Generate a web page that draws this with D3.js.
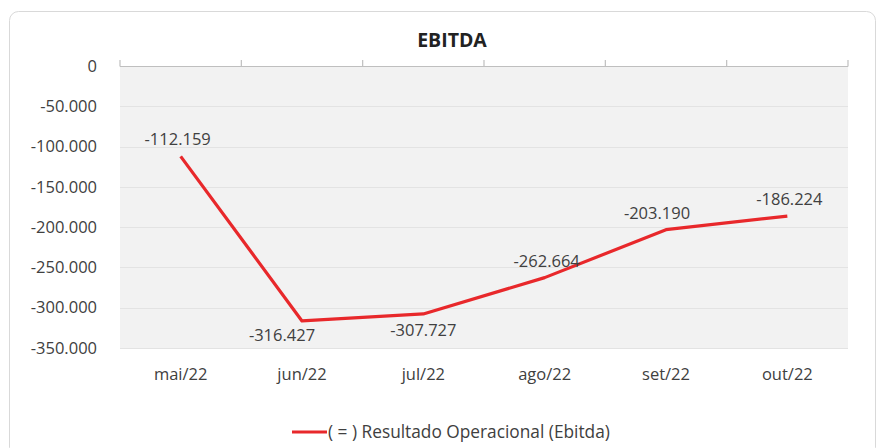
<!DOCTYPE html>
<html><head><meta charset="utf-8">
<script src="https://cdn.jsdelivr.net/npm/d3@7"></script>
<style>
html,body{margin:0;padding:0;background:#fff;}
svg{display:block;font-family:"Open Sans",sans-serif;}
</style></head>
<body>
<svg id="chart" width="882" height="448"></svg>
<script>
const title = "EBITDA";
const categories = ["mai/22","jun/22","jul/22","ago/22","set/22","out/22"];
const values = [-112159,-316427,-307727,-262664,-203190,-186224];
const seriesName = "( = ) Resultado Operacional (Ebitda)";
const yTicks = [0,-50000,-100000,-150000,-200000,-250000,-300000,-350000];
const labelPlacement = ["above","below","below","above","above","above"];

const svg = d3.select("#chart");
const m = {left:120, top:66};
const pw = 848 - 120, ph = 348 - 66;

const fmt = v => d3.format(",")(v).replace(/,/g,".").replace("−","-");

// card
svg.append("rect").attr("x",9.5).attr("y",11.5).attr("width",866).attr("height",445)
  .attr("rx",9).attr("fill","#fff").attr("stroke","#d9d9d9").attr("stroke-width",1);

const g = svg.append("g").attr("transform",`translate(${m.left},${m.top})`);

const x = d3.scaleBand().domain(categories).range([0,pw]).paddingInner(0).paddingOuter(0);
const y = d3.scaleLinear().domain([0,-350000]).range([0,ph]);

// plot bg
g.append("rect").attr("x",0).attr("y",0).attr("width",pw).attr("height",ph+1).attr("fill","#f2f2f2");

// gridlines
g.append("g").selectAll("line").data(yTicks.filter(d=>d!==0)).join("line")
  .attr("x1",0).attr("x2",pw).attr("y1",d=>Math.round(y(d))+0.5).attr("y2",d=>Math.round(y(d))+0.5)
  .attr("stroke","#e3e3e3").attr("stroke-width",1.2);

// y-axis labels
const yAxis = d3.axisLeft(y).tickValues(yTicks).tickFormat(d=>d===0?"0":fmt(d)).tickSize(0).tickPadding(23);
const ya = g.append("g").call(yAxis);
ya.select(".domain").remove();
ya.selectAll("text").attr("fill","#404040").style("font-size","16.5px").style("font-family","'Open Sans',sans-serif");

// x axis line at top (value 0) with ticks upward at category boundaries
const xa = g.append("g").attr("transform",`translate(0,${y(0)})`);
xa.append("line").attr("x1",0).attr("x2",pw).attr("y1",0.5).attr("y2",0.5).attr("stroke","#bfbfbf").attr("stroke-width",1.2);
const bounds = categories.map(c=>x(c)).concat([pw]);
xa.selectAll("line.tk").data(bounds).join("line").attr("class","tk")
  .attr("x1",d=>d).attr("x2",d=>d).attr("y1",0.5).attr("y2",-6).attr("stroke","#bfbfbf").attr("stroke-width",1.2);

// category labels at bottom
const xb = d3.axisBottom(x).tickSize(0).tickPadding(20);
const xbg = g.append("g").attr("transform",`translate(0,${ph})`).call(xb);
xbg.select(".domain").remove();
xbg.selectAll("text").attr("fill","#404040").style("font-size","16.5px").style("font-family","'Open Sans',sans-serif");

// line
const cx = c => x(c) + x.bandwidth()/2;
const line = d3.line().x((d,i)=>cx(categories[i])).y(d=>y(d));
g.append("path").datum(values).attr("d",line).attr("fill","none")
  .attr("stroke","#e8282b").attr("stroke-width",3.2).attr("stroke-linejoin","round");

// data labels
const labelDx = [-3,-20,0,2,-9,2];
const labelDy = [-11,20,22,-11,-11,-11];
g.append("g").selectAll("text").data(values).join("text")
  .attr("x",(d,i)=>cx(categories[i]) + labelDx[i])
  .attr("y",(d,i)=> y(d) + labelDy[i])
  .attr("text-anchor","middle").attr("fill","#404040")
  .style("font-size","16.5px").text(d=>fmt(d));

// title
svg.append("text").attr("x",452).attr("y",47).attr("text-anchor","middle")
  .attr("fill","#222").style("font-weight","bold").style("font-size","19.5px").text(title);

// legend
const lg = svg.append("g").attr("transform","translate(292,432)");
lg.append("line").attr("x1",0).attr("x2",35).attr("y1",0).attr("y2",0).attr("stroke","#e8282b").attr("stroke-width",3.2);
lg.append("text").attr("x",36).attr("y",6).attr("fill","#404040").style("font-size","17.3px").text(seriesName);
</script>
</body></html>
